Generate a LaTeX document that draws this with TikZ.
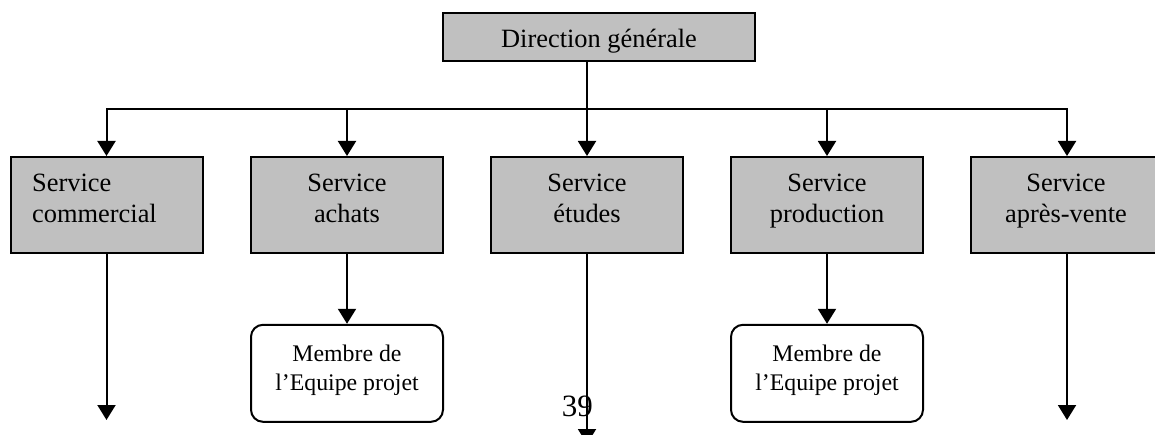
\documentclass[tikz,border=0pt]{standalone}
\usepackage{fontspec}
\setmainfont{Liberation Serif}
\usetikzlibrary{arrows.meta}
\definecolor{boxgray}{RGB}{192,192,192}
\tikzset{
  svc/.style={draw=black, fill=boxgray, line width=2pt, minimum width=192pt, minimum height=96pt, inner sep=0pt},
  memb/.style={draw=black, fill=white, rounded corners=12pt, line width=2pt, minimum width=192pt, minimum height=97pt, inner sep=0pt},
  bigtxt/.style={font=\fontsize{26.4}{30.5}\selectfont, inner sep=0pt, align=center, anchor=base},
  smalltxt/.style={font=\fontsize{23.8}{28.3}\selectfont, inner sep=0pt, align=center, anchor=base},
  conn/.style={line width=2pt},
  arr/.style={conn, -{Triangle[length=15pt,width=18pt]}},
}
\begin{document}
\begin{tikzpicture}[x=1pt,y=1pt]
\clip (0,0) rectangle (1155,-435);
\useasboundingbox (0,0) rectangle (1155,-435);
% top box
\node[draw=black, fill=boxgray, line width=2pt, minimum width=312pt, minimum height=48pt, inner sep=0pt] (dg) at (599,-37) {};
\node[bigtxt] (dgT) at (599,-47.7) {Direction générale};
\coordinate (j) at (587,-109);
% service boxes
\node[svc] (sc) at (106.5,-205) {};
\node[svc] (sa) at (347,-205) {};
\node[svc] (se) at (587,-205) {};
\node[svc] (sp) at (827,-205) {};
\node[svc] (sv) at (1067,-205) {};
\node[bigtxt, align=left, anchor=base west] (scT) at (32,-222.5) {Service\\commercial};
\node[bigtxt] (saT) at (347,-222.5) {Service\\achats};
\node[bigtxt] (seT) at (587,-222.5) {Service\\études};
\node[bigtxt] (spT) at (827,-222.5) {Service\\production};
\node[bigtxt] (svT) at (1066,-222.5) {Service\\après-vente};
% team member boxes
\node[memb] (m1) at (347,-373.3) {};
\node[memb] (m2) at (827,-373.3) {};
\node[smalltxt] (m1T) at (347,-390) {Membre de\\l’Equipe projet};
\node[smalltxt] (m2T) at (827,-390) {Membre de\\l’Equipe projet};
% free ends
\coordinate (ec) at (106.5,-420);
\coordinate (ee) at (587,-444);
\coordinate (ev) at (1067,-420);
% connectors
\draw[conn] (dg.south -| j) -- (j);
\draw[arr] (j) -| (sc.north);
\draw[arr] (j) -| (sa.north);
\draw[arr] (j) -- (se.north);
\draw[arr] (j) -| (sp.north);
\draw[arr] (j) -| (sv.north);
\draw[arr] (sc.south) -- (ec);
\draw[arr] (sa.south) -- (m1.north);
\draw[arr] (se.south) -- (ee);
\draw[arr] (sp.south) -- (m2.north);
\draw[arr] (sv.south) -- (ev);
% page number
\node[font=\fontsize{31}{31}\selectfont, inner sep=0pt, anchor=base west] (pg) at (561.7,-416.7) {39};
\end{tikzpicture}
\end{document}
